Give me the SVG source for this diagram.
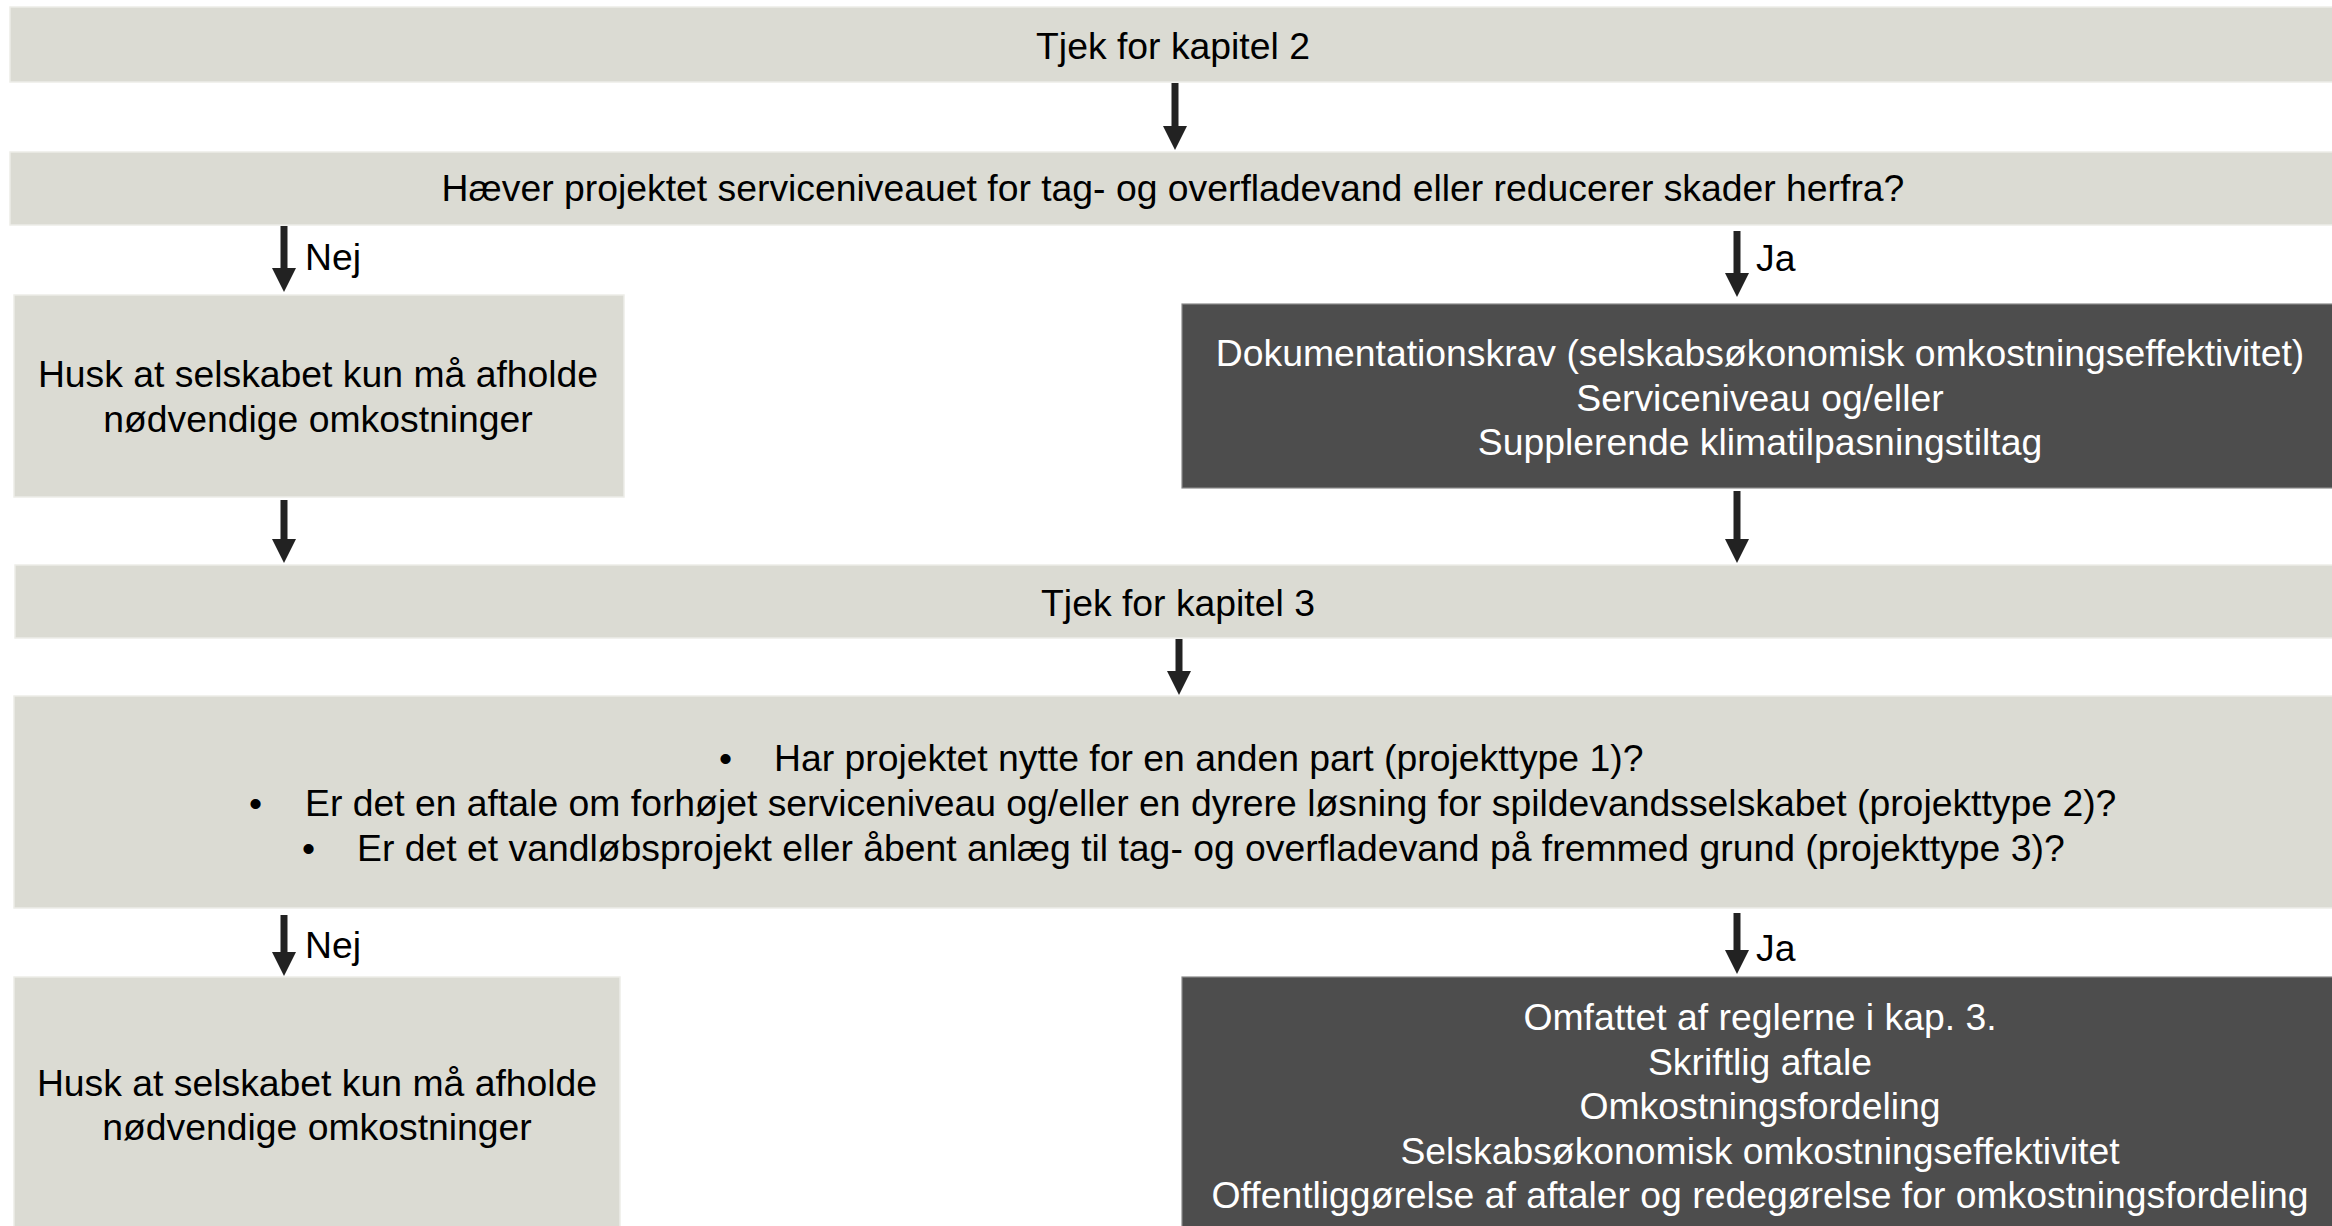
<svg xmlns="http://www.w3.org/2000/svg" width="2332" height="1226" viewBox="0 0 2332 1226">
<style>
.lb{fill:#DBDBD3;stroke:#EDEDE8;stroke-width:1.5}
.db{fill:#4D4D4D;stroke:#8A8A8A;stroke-width:1.2}
text{font-family:"Liberation Sans",Arial,sans-serif;font-size:37.33px}
.t{fill:#000}
.w{fill:#fff}
.c{text-anchor:middle}
.ar{stroke:#222;stroke-width:7;fill:none;marker-end:url(#ah)}
</style>
<defs>
<marker id="ah" markerUnits="userSpaceOnUse" markerWidth="24" markerHeight="24" viewBox="0 0 24 24" refX="4" refY="12" orient="auto">
<path d="M0,0 L24,12 L0,24 z" fill="#222"/>
</marker>
</defs>
<rect width="2332" height="1226" fill="#fff"/>
<g id="kap2">
<rect class="lb" x="10" y="7" width="2330" height="75"/>
<text class="t c" x="1173" y="59">Tjek for kapitel 2</text>
</g>
<g id="q1">
<rect class="lb" x="10" y="152" width="2330" height="73"/>
<text class="t c" x="1173" y="201">Hæver projektet serviceniveauet for tag- og overfladevand eller reducerer skader herfra?</text>
</g>
<g id="nej1">
<rect class="lb" x="14" y="295" width="610" height="202"/>
<text class="t c" x="318" y="387">Husk at selskabet kun må afholde</text>
<text class="t c" x="318" y="432">nødvendige omkostninger</text>
</g>
<g id="ja1">
<rect class="db" x="1182" y="304" width="1160" height="184"/>
<text class="w c" x="1760" y="366">Dokumentationskrav (selskabsøkonomisk omkostningseffektivitet)</text>
<text class="w c" x="1760" y="410.5">Serviceniveau og/eller</text>
<text class="w c" x="1760" y="455">Supplerende klimatilpasningstiltag</text>
</g>
<g id="kap3">
<rect class="lb" x="15" y="565" width="2330" height="73"/>
<text class="t c" x="1178" y="616">Tjek for kapitel 3</text>
</g>
<g id="q2">
<rect class="lb" x="14" y="696" width="2330" height="212"/>
<text class="t" x="719" y="771">•</text>
<text class="t" x="774" y="771">Har projektet nytte for en anden part (projekttype 1)?</text>
<text class="t" x="249" y="816">•</text>
<text class="t" x="305" y="816">Er det en aftale om forhøjet serviceniveau og/eller en dyrere løsning for spildevandsselskabet (projekttype 2)?</text>
<text class="t" x="302" y="861">•</text>
<text class="t" x="357" y="861">Er det et vandløbsprojekt eller åbent anlæg til tag- og overfladevand på fremmed grund (projekttype 3)?</text>
</g>
<g id="nej2">
<rect class="lb" x="14" y="977" width="606" height="260"/>
<text class="t c" x="317" y="1096">Husk at selskabet kun må afholde</text>
<text class="t c" x="317" y="1140">nødvendige omkostninger</text>
</g>
<g id="ja2">
<rect class="db" x="1182" y="977" width="1160" height="260"/>
<text class="w c" x="1760" y="1030">Omfattet af reglerne i kap. 3.</text>
<text class="w c" x="1760" y="1074.5">Skriftlig aftale</text>
<text class="w c" x="1760" y="1119">Omkostningsfordeling</text>
<text class="w c" x="1760" y="1163.5">Selskabsøkonomisk omkostningseffektivitet</text>
<text class="w c" x="1760" y="1208">Offentliggørelse af aftaler og redegørelse for omkostningsfordeling</text>
</g>
<g id="connectors">
<line class="ar" x1="1175" y1="83" x2="1175" y2="130"/>
<line class="ar" x1="284" y1="226" x2="284" y2="272"/>
<text class="t" x="305" y="270">Nej</text>
<line class="ar" x1="1737" y1="231" x2="1737" y2="277"/>
<text class="t" x="1756" y="271">Ja</text>
<line class="ar" x1="284" y1="500" x2="284" y2="543"/>
<line class="ar" x1="1737" y1="491" x2="1737" y2="543"/>
<line class="ar" x1="1179" y1="639" x2="1179" y2="675"/>
<line class="ar" x1="284" y1="915" x2="284" y2="956"/>
<text class="t" x="305" y="958">Nej</text>
<line class="ar" x1="1737" y1="913" x2="1737" y2="954"/>
<text class="t" x="1756" y="961">Ja</text>
</g>
</svg>
